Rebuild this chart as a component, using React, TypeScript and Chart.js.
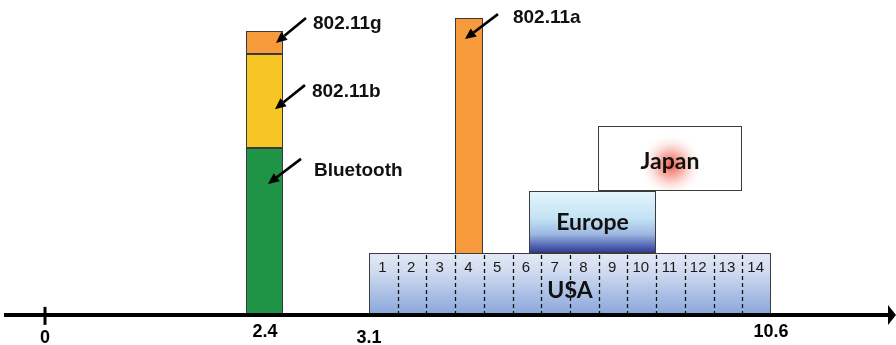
import React, { useEffect, useRef } from 'react';
import { Chart, LinearScale, registerables } from 'chart.js';

// ---------------- data ----------------
// Frequency axis (GHz) – tick values and their labels
const tickValues = [0, 2.4, 3.1, 10.6];
const tickLabels = ['0', '2.4', '3.1', '10.6'];

// 2.4 GHz ISM stack (schematic band extents, GHz) and stacked layer tops (relative level 0-100)
const ismBand = [2.19, 2.52];
const ismLayers = ['Bluetooth', '802.11b', '802.11g'];
const ismTops = [53.1, 82.9, 90.2];

// 802.11a band (GHz) and level
const wlanABand = [4.7, 5.23];
const wlanATop = 94.3;

// UWB regulatory regions
const uwbRegions = ['USA', 'Europe', 'Japan'];
const uwbStart = [3.1, 6.09, 7.37];
const uwbEnd = [10.6, 8.45, 10.06];
const uwbLow = [0, 19.8, 39.6];
const uwbHigh = [19.8, 39.6, 60.0];

// USA band channels
const usaChannels = ['1', '2', '3', '4', '5', '6', '7', '8', '9', '10', '11', '12', '13', '14'];

// Callouts: label and arrow-tip position (GHz, level)
const calloutLabels = ['802.11g', '802.11b', 'Bluetooth', '802.11a'];
const calloutX = [2.474, 2.467, 2.42, 4.89];
const calloutY = [86.4, 65.4, 41.7, 87.6];

// ---------------- layout / style ----------------
const W = 896;
const H = 345;
// broken (schematic) axis: where each break value sits along the axis width
const axisBreakDecimals = [45 / W, 265 / W, 369 / W, 771 / W];

const ismColors = ['#1f9346', '#f6c724', '#f79a3c'];
const wlanAColor = '#f79a3c';
const calloutTail = [[30, -25], [30, -24], [33, -25], [33, -25]];
const calloutText = [[37, -13.5], [37, -12.5], [46, -8], [48, -16]];
const regionBaseline = [0.73, 0.63, 0.66];

class BrokenAxis extends LinearScale {
  static id = 'brokenAxis';
  static defaults = LinearScale.defaults;
  getPixelForValue(value: number) {
    const vals = tickValues;
    const decs = axisBreakDecimals;
    let i = 0;
    if (value >= vals[vals.length - 1]) i = vals.length - 2;
    else {
      while (i < vals.length - 2 && value > vals[i + 1]) i++;
    }
    const t = (value - vals[i]) / (vals[i + 1] - vals[i]);
    const d = decs[i] + t * (decs[i + 1] - decs[i]);
    return this.getPixelForDecimal(d);
  }
}

Chart.register(...registerables, BrokenAxis as any);

function drawArrow(ctx: CanvasRenderingContext2D, x0: number, y0: number, x1: number, y1: number) {
  const ang = Math.atan2(y1 - y0, x1 - x0);
  const head = 11;
  const half = 5;
  const bx = x1 - head * Math.cos(ang);
  const by = y1 - head * Math.sin(ang);
  ctx.beginPath();
  ctx.moveTo(x0, y0);
  ctx.lineTo(bx, by);
  ctx.lineWidth = 2.6;
  ctx.strokeStyle = '#000';
  ctx.stroke();
  ctx.beginPath();
  ctx.moveTo(x1, y1);
  ctx.lineTo(bx + half * Math.sin(ang), by - half * Math.cos(ang));
  ctx.lineTo(bx - half * Math.sin(ang), by + half * Math.cos(ang));
  ctx.closePath();
  ctx.fillStyle = '#000';
  ctx.fill();
}

const diagramPlugin = {
  id: 'uwbDiagram',
  afterDraw(chart: any) {
    const ctx: CanvasRenderingContext2D = chart.ctx;
    const xs = chart.scales.x;
    const ys = chart.scales.y;
    const X = (v: number) => xs.getPixelForValue(v);
    const Y = (v: number) => ys.getPixelForValue(v);
    const area = chart.chartArea;

    const rect = (x0: number, x1: number, y0: number, y1: number, fill: any, stroke: string) => {
      const l = Math.round(Math.min(x0, x1));
      const r = Math.round(Math.max(x0, x1));
      const t = Math.round(Math.min(y0, y1));
      const b = Math.round(Math.max(y0, y1));
      ctx.fillStyle = fill;
      ctx.fillRect(l, t, r - l, b - t);
      ctx.lineWidth = 1;
      ctx.strokeStyle = stroke;
      ctx.strokeRect(l + 0.5, t + 0.5, r - l - 1, b - t - 1);
      return { l, r, t, b };
    };

    ctx.save();

    // 2.4 GHz stack
    let prev = 0;
    ismTops.forEach((top, i) => {
      rect(X(ismBand[0]), X(ismBand[1]), Y(prev), Y(top), ismColors[i], '#3a3a3a');
      prev = top;
    });

    // 802.11a bar
    rect(X(wlanABand[0]), X(wlanABand[1]), Y(0), Y(wlanATop), wlanAColor, '#3a3a3a');

    // UWB regions
    uwbRegions.forEach((name, i) => {
      const x0 = X(uwbStart[i]);
      const x1 = X(uwbEnd[i]);
      const y0 = Y(uwbHigh[i]);
      const y1 = Y(uwbLow[i]);
      let fill: any;
      if (name === 'USA') {
        const g = ctx.createLinearGradient(0, y0, 0, y1);
        g.addColorStop(0, '#e4eaf6');
        g.addColorStop(0.3, '#d0dbf0');
        g.addColorStop(1, '#88a5da');
        fill = g;
      } else if (name === 'Europe') {
        const g = ctx.createLinearGradient(0, y0, 0, y1);
        g.addColorStop(0, '#e6f6fd');
        g.addColorStop(0.45, '#c3e2f4');
        g.addColorStop(0.7, '#9db8e1');
        g.addColorStop(0.88, '#5668b5');
        g.addColorStop(1, '#2b3990');
        fill = g;
      } else {
        fill = '#ffffff';
      }
      const box = rect(x0, x1, y0, y1, fill, '#3c3c3c');
      const cx = (box.l + box.r) / 2;
      const hgt = box.b - box.t;

      if (name === 'Japan') {
        const gy = box.t + hgt * 0.6;
        const rg = ctx.createRadialGradient(cx + 1, gy, 0, cx + 1, gy, 32);
        rg.addColorStop(0, 'rgba(238,78,58,0.92)');
        rg.addColorStop(0.4, 'rgba(242,120,105,0.55)');
        rg.addColorStop(1, 'rgba(255,255,255,0)');
        ctx.fillStyle = rg;
        ctx.fillRect(box.l + 1, box.t + 1, box.r - box.l - 2, hgt - 2);
      }

      if (name === 'USA') {
        const n = usaChannels.length;
        const cw = (box.r - box.l) / n;
        ctx.setLineDash([4, 3]);
        ctx.lineWidth = 1.3;
        ctx.strokeStyle = '#111';
        for (let k = 1; k < n; k++) {
          const xx = Math.round(box.l + k * cw) + 0.5;
          ctx.beginPath();
          ctx.moveTo(xx, box.t + 2);
          ctx.lineTo(xx, box.b);
          ctx.stroke();
        }
        ctx.setLineDash([]);
        ctx.fillStyle = '#1a1a1a';
        ctx.font = '15px "Liberation Sans", Arial, sans-serif';
        ctx.textAlign = 'center';
        ctx.textBaseline = 'alphabetic';
        usaChannels.forEach((c, k) => {
          ctx.fillText(c, box.l + (k + 0.5) * cw - 1, box.t + 19);
        });
      }

      ctx.fillStyle = '#111';
      ctx.font = 'bold 23px Lato, "Open Sans", sans-serif';
      ctx.textAlign = 'center';
      ctx.textBaseline = 'alphabetic';
      ctx.fillText(name, cx, box.t + hgt * regionBaseline[i]);
    });

    // axis line with arrow
    const ay = Y(0) - 0.5;
    ctx.beginPath();
    ctx.moveTo(area.left + 4, ay);
    ctx.lineTo(area.right - 6, ay);
    ctx.lineWidth = 4;
    ctx.strokeStyle = '#000';
    ctx.stroke();
    ctx.beginPath();
    ctx.moveTo(area.right - 8, ay - 10);
    ctx.lineTo(area.right, ay);
    ctx.lineTo(area.right - 8, ay + 10);
    ctx.closePath();
    ctx.fillStyle = '#000';
    ctx.fill();
    // tick at origin
    ctx.beginPath();
    ctx.moveTo(X(0), ay - 8);
    ctx.lineTo(X(0), ay + 10);
    ctx.lineWidth = 3;
    ctx.stroke();

    // callouts
    calloutLabels.forEach((label, i) => {
      const tx = X(calloutX[i]);
      const ty = Y(calloutY[i]);
      drawArrow(ctx, tx + calloutTail[i][0], ty + calloutTail[i][1], tx, ty);
      ctx.fillStyle = '#111';
      ctx.font = 'bold 19px "Liberation Sans", Arial, sans-serif';
      ctx.textAlign = 'left';
      ctx.textBaseline = 'alphabetic';
      ctx.fillText(label, tx + calloutText[i][0], ty + calloutText[i][1]);
    });

    ctx.restore();
  },
};

export default function App() {
  const ref = useRef<HTMLCanvasElement | null>(null);
  useEffect(() => {
    if (!ref.current) return;
    const chart = new Chart(ref.current, {
      type: 'scatter',
      data: { datasets: [] },
      options: {
        responsive: false,
        animation: false,
        events: [],
        layout: { padding: 0 },
        plugins: {
          legend: { display: false },
          tooltip: { enabled: false },
          title: { display: false },
        },
        scales: {
          x: {
            type: 'brokenAxis' as any,
            position: 'bottom',
            min: -0.5,
            max: 13,
            grid: { display: false, drawTicks: false },
            border: { display: false },
            afterBuildTicks: (s: any) => {
              s.ticks = tickValues.map((v) => ({ value: v }));
            },
            afterFit: (s: any) => {
              s.height = 29.6;
            },
            ticks: {
              autoSkip: false,
              maxRotation: 0,
              padding: 6.3,
              color: '#000',
              font: (c: any) => ({
                family: '"Liberation Sans", Arial, sans-serif',
                size: 18,
                weight: 'bold',
                lineHeight: c.index % 2 === 0 ? 32.6 / 18 : 1.2,
              }),
              callback: (_v: any, i: number) => tickLabels[i],
            },
          } as any,
          y: { type: 'linear', display: false, min: 0, max: 100 },
        },
      },
      plugins: [diagramPlugin],
    });
    return () => chart.destroy();
  }, []);
  return (
    <div style={{ position: 'fixed', left: 0, top: 0, width: W, height: H, background: '#fff' }}>
      <canvas ref={ref} width={W} height={H} style={{ display: 'block' }} />
    </div>
  );
}
